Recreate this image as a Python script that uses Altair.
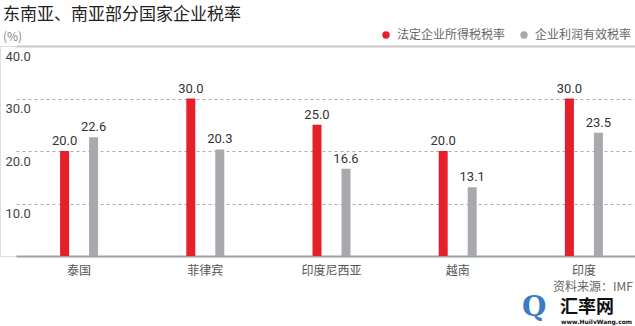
import altair as alt
import pandas as pd

countries = ["泰国", "菲律宾", "印度尼西亚", "越南", "印度"]
statutory = [20.0, 30.0, 25.0, 20.0, 30.0]
effective = [22.6, 20.3, 16.6, 13.1, 23.5]
series = ["法定企业所得税税率", "企业利润有效税率"]
y_ticks = [10, 20, 30, 40]
colors = ["#E5202A", "#A9A9AD"]

rows = []
for c, s, e in zip(countries, statutory, effective):
    rows.append({"country": c, "series": series[0], "value": s})
    rows.append({"country": c, "series": series[1], "value": e})
df = pd.DataFrame(rows)

W, H = 635, 210

x = alt.X("country:N", sort=countries, title=None,
          scale=alt.Scale(range=[16, 647], paddingInner=0, paddingOuter=0),
          axis=alt.Axis(labelAngle=0, ticks=False, domain=True, domainColor="#A0A0A0",
                        domainWidth=2, labelFontSize=12, labelColor="#555555",
                        labelPadding=9, labelFont="Noto Sans CJK SC"))
xoff = alt.XOffset("series:N", sort=series,
                   scale=alt.Scale(domain=series, range=[34.1, 92.1], paddingInner=0, paddingOuter=0))
y = alt.Y("value:Q", title=None,
          scale=alt.Scale(domain=[0, 40], nice=False),
          axis=alt.Axis(values=y_ticks, format=".1f", domain=False, ticks=False,
                        grid=True,
                        gridDash={"condition": {"test": "datum.value == 40", "value": []}, "value": [3, 3]},
                        gridWidth={"condition": {"test": "datum.value == 40", "value": 2}, "value": 1},
                        gridColor={"condition": {"test": "datum.value == 40", "value": "#C8C8C8"}, "value": "#ABABAB"},
                        labelAlign="left", labelBaseline="top", labelPadding=-5, labelOffset=4,
                        labelFontSize=13, labelColor="#444444", labelFont="Roboto"))

color = alt.Color("series:N", sort=series,
                  scale=alt.Scale(domain=series, range=colors),
                  legend=alt.Legend(title=None, orient="none", legendX=380, legendY=-17,
                                    direction="horizontal", symbolType="circle", symbolSize=55,
                                    symbolStrokeWidth=0, labelFontSize=12, labelColor="#666666",
                                    labelFont="Noto Sans CJK SC", columnPadding=12, padding=0,
                                    labelOffset=5))

base = alt.Chart(df)
bars = base.mark_bar(width=9).encode(x=x, xOffset=xoff, y=y, color=color)
labels = base.mark_text(dy=-10, fontSize=13, font="Roboto", color="#333333").encode(
    x=x, xOffset=xoff, y=y, text=alt.Text("value:Q", format=".1f"))


def note(text, xv, yv, size, col, font="Noto Sans CJK SC", weight="normal"):
    return alt.Chart(pd.DataFrame({"t": [text]})).mark_text(
        align="left", baseline="middle", fontSize=size, color=col, font=font, fontWeight=weight
    ).encode(x=alt.value(xv), y=alt.value(yv), text="t:N")


title = note("东南亚、南亚部分国家企业税率", 3, -31, 17, "#222222")
unit = note("(%)", 3, -9, 12, "#888888")
source = note("资料来源：IMF", 553, H + 31, 12, "#666666")
wm3 = note("Q", 522, H + 52, 28, "#3A7CC4", font="DejaVu Serif", weight="bold")
wm1 = note("汇率网", 560, H + 52, 18, "#111111", weight="bold")
wm2 = note("www.HuilvWang.com", 561, H + 66, 6, "#111111", font="DejaVu Sans", weight="bold")

chart = alt.layer(bars, labels, title, unit, source, wm3, wm1, wm2).properties(
    width=W, height=H,
    autosize=alt.AutoSizeParams(type="none"),
    padding={"left": 0, "top": 46, "right": 0, "bottom": 70},
).configure_view(stroke=None).configure(background="white")

chart.save("out.html", embed_options={"renderer": "svg", "actions": False})
